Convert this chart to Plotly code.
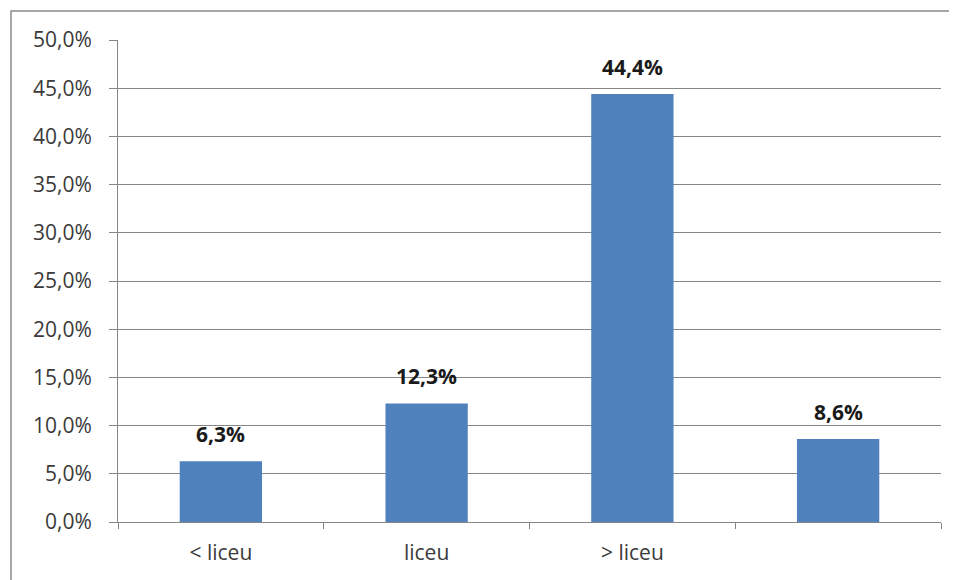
import plotly.graph_objects as go

categories = ["< liceu", "liceu", "> liceu", " "]
values = [0.063, 0.123, 0.444, 0.086]
y_tick_values = [0.0, 0.05, 0.10, 0.15, 0.20, 0.25, 0.30, 0.35, 0.40, 0.45, 0.50]

# page body has an 8px margin, so the figure is 8px smaller on each side
W, H = 949, 572
ml, mr, mt, mb = 110, 16, 32, 58
pw = W - ml - mr
ph = H - mt - mb

FONT = "'Open Sans', 'Noto Sans', sans-serif"
GRID = "#868686"
TXT = "#3a3a3a"

fig = go.Figure()
fig.add_trace(go.Bar(
    x=categories, y=values,
    marker=dict(color="#4F81BD", line=dict(width=0)),
    hoverinfo="skip",
))

for c, v in zip(categories, values):
    fig.add_annotation(
        x=c, y=v, xref="x", yref="y",
        text="<b>" + f"{v*100:.1f}".replace(".", ",") + "%</b>",
        showarrow=False, yanchor="middle", yshift=27,
        font=dict(family=FONT, size=21, color="#1a1a1a"),
    )

# chart border (left and top visible, right/bottom off-page)
fig.add_shape(
    type="rect", xref="paper", yref="paper",
    x0=(3 - ml) / pw, x1=1.2, y0=-0.3, y1=(H - mb - 3) / ph,
    line=dict(color="#8a8a8a", width=1.5), fillcolor="rgba(0,0,0,0)", layer="below",
)

fig.update_layout(
    width=W, height=H,
    margin=dict(l=ml, r=mr, t=mt, b=mb, pad=0),
    plot_bgcolor="white", paper_bgcolor="white",
    bargap=0.6, showlegend=False,
    separators=", ",
    font=dict(family=FONT, size=21, color=TXT),
    xaxis=dict(
        type="category", categoryorder="array", categoryarray=categories,
        showline=True, linecolor=GRID, linewidth=1,
        ticks="outside", tickson="boundaries", ticklen=6, tickcolor=GRID,
        showgrid=False, ticklabelstandoff=12,
        tickfont=dict(family=FONT, size=21, color=TXT),
    ),
    yaxis=dict(
        range=[0, 0.5], tickvals=y_tick_values, tickformat=".1%",
        showline=True, linecolor=GRID, linewidth=1,
        showgrid=True, gridcolor=GRID, gridwidth=1,
        ticks="outside", ticklen=8, tickcolor=GRID,
        zeroline=False, ticklabelstandoff=13,
        tickfont=dict(family=FONT, size=21, color=TXT),
    ),
)

fig.write_html("out.html")
